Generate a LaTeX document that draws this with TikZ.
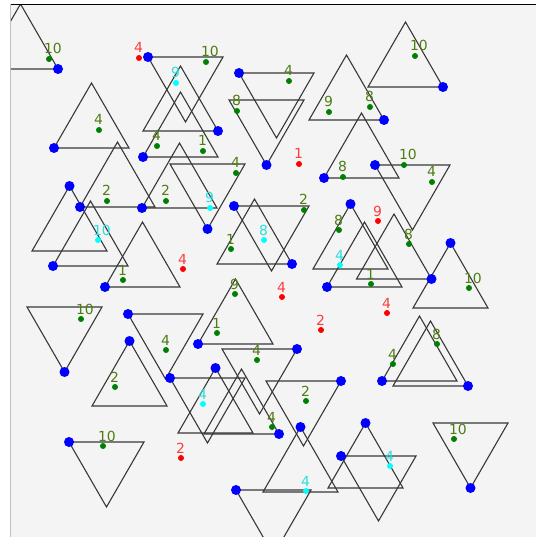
\documentclass[tikz,border=0pt]{standalone}
\usepackage{fontspec}
\setmainfont{DejaVu Sans}
\definecolor{panel}{HTML}{F4F4F4}
\definecolor{dotgreen}{HTML}{008000}
\definecolor{txtgreen}{RGB}{78,125,18}
\definecolor{dotcyan}{HTML}{00FFFF}
\definecolor{txtcyan}{RGB}{40,222,222}
\definecolor{dotred}{HTML}{FF0000}
\definecolor{txtred}{RGB}{255,60,60}
\definecolor{dotblue}{HTML}{0000FF}
\newcommand\tup[2]{\draw[tri] (#1,#2) -- ++(75,0) -- ++(-37.5,-65) -- cycle;}
\newcommand\tdn[2]{\draw[tri] (#1,#2) -- ++(75,0) -- ++(-37.5,65) -- cycle;}
\newcommand\bdot[2]{\fill[dotblue] (#1,#2) circle (5bp);}
\newcommand\glab[4]{\fill[dotgreen] (#2,#3) circle (3bp);
  \node[lab,text=txtgreen] (#1) at (#2-5,#3-5) {#4};}
\newcommand\clab[4]{\fill[dotcyan] (#2,#3) circle (3bp);
  \node[lab,text=txtcyan] (#1) at (#2-5,#3-5) {#4};}
\newcommand\rlab[4]{\fill[dotred] (#2,#3) circle (3bp);
  \node[lab,text=txtred] (#1) at (#2-5,#3-5) {#4};}
\begin{document}
\begin{tikzpicture}[x=1bp,y=-1bp,
  tri/.style={draw=black!78,line width=1.1bp,line join=miter},
  lab/.style={anchor=base west,inner sep=0pt,outer sep=0pt,font=\fontsize{13.9bp}{16bp}\selectfont}]
\useasboundingbox (0,0) rectangle (540,537);
\fill[white] (0,0) rectangle (540,537);
\fill[panel] (10,4.3) rectangle (536,537);
\begin{scope}
\clip (10,4.3) rectangle (536,537);
% up triangles: base-left vertex
\tup{-17}{69}
\tup{143}{131}
\tup{143}{157}
\tup{54}{148}
\tup{80}{207}
\tup{142}{208}
\tup{309}{120}
\tup{368}{87}
\tup{324}{178}
\tup{313}{269}
\tup{327}{287}
\tup{356.5}{279}
\tup{413}{308}
\tup{105}{287}
\tup{32}{251}
\tup{53}{266}
\tup{217}{264}
\tup{198}{344}
\tup{92}{406}
\tup{178}{433}
\tup{204}{434}
\tup{263}{492}
\tup{328}{488}
\tup{382}{381}
\tup{393}{386}
% down triangles: top-left vertex
\tdn{148}{57}
\tdn{170}{164}
\tdn{239}{73}
\tdn{229}{100}
\tdn{375}{165}
\tdn{27}{307}
\tdn{234}{206}
\tdn{128}{314}
\tdn{170}{378}
\tdn{222}{349}
\tdn{266}{381}
\tdn{236}{490}
\tdn{341}{456}
\tdn{433}{423}
\tdn{69}{442}
% blue vertices
\bdot{58}{69}
\bdot{148}{57}
\bdot{218}{131}
\bdot{143}{157}
\bdot{54}{148}
\bdot{80}{207}
\bdot{142}{208}
\bdot{207.5}{229}
\bdot{239}{73}
\bdot{266.5}{165}
\bdot{384}{120}
\bdot{443}{87}
\bdot{324}{178}
\bdot{375}{165}
\bdot{350.5}{204}
\bdot{327}{287}
\bdot{431.5}{279}
\bdot{450.5}{243}
\bdot{64.5}{372}
\bdot{105}{287}
\bdot{69.5}{186}
\bdot{53}{266}
\bdot{234}{206}
\bdot{292}{264}
\bdot{198}{344}
\bdot{128}{314}
\bdot{170}{378}
\bdot{129.5}{341}
\bdot{297}{349}
\bdot{215.5}{368}
\bdot{279}{434}
\bdot{341}{381}
\bdot{300.5}{427}
\bdot{236}{490}
\bdot{341}{456}
\bdot{365.5}{423}
\bdot{382}{381}
\bdot{468}{386}
\bdot{470.5}{488}
\bdot{69}{442}
% labels
\glab{g1}{49}{59}{10}
\glab{g2}{206}{62}{10}
\glab{g3}{99}{130}{4}
\glab{g4}{157}{146}{4}
\glab{g5}{203}{151}{1}
\glab{g6}{289}{81}{4}
\glab{g7}{237}{111}{8}
\glab{g8}{329}{112}{9}
\glab{g9}{370}{107}{8}
\glab{g10}{415}{56}{10}
\glab{g11}{107}{201}{2}
\glab{g12}{166}{201}{2}
\glab{g13}{236}{173}{4}
\glab{g14}{343}{177}{8}
\glab{g15}{404}{165}{10}
\glab{g16}{432}{182}{4}
\glab{g17}{304}{210}{2}
\glab{g18}{231}{249}{1}
\glab{g19}{339}{230}{8}
\glab{g20}{409}{244}{8}
\glab{g21}{371}{284}{1}
\glab{g22}{469}{288}{10}
\glab{g23}{123}{280}{1}
\glab{g24}{81}{319}{10}
\glab{g25}{235}{294}{9}
\glab{g26}{217}{333}{1}
\glab{g27}{166}{350}{4}
\glab{g28}{257}{360}{4}
\glab{g29}{115}{387}{2}
\glab{g30}{272}{427}{4}
\glab{g31}{306}{401}{2}
\glab{g32}{393}{364}{4}
\glab{g33}{437}{344}{8}
\glab{g34}{454}{439}{10}
\glab{g35}{103}{446}{10}
\clab{c1}{176}{83}{9}
\clab{c2}{98}{240}{10}
\clab{c3}{210}{208}{9}
\clab{c4}{264}{240}{8}
\clab{c5}{340}{265}{4}
\clab{c6}{203}{404}{4}
\clab{c7}{306}{491}{4}
\clab{c8}{390}{466}{4}
\rlab{r1}{139}{58}{4}
\rlab{r2}{299}{164}{1}
\rlab{r3}{183}{269}{4}
\rlab{r4}{378}{221}{9}
\rlab{r5}{282}{297}{4}
\rlab{r6}{321}{330}{2}
\rlab{r7}{387}{313}{4}
\rlab{r8}{181}{458}{2}
\end{scope}
\draw[black,line width=1bp] (10,4.3) -- (536,4.3);
\draw[black!25,line width=1bp] (10,4.3) -- (10,537);
\end{tikzpicture}
\end{document}
